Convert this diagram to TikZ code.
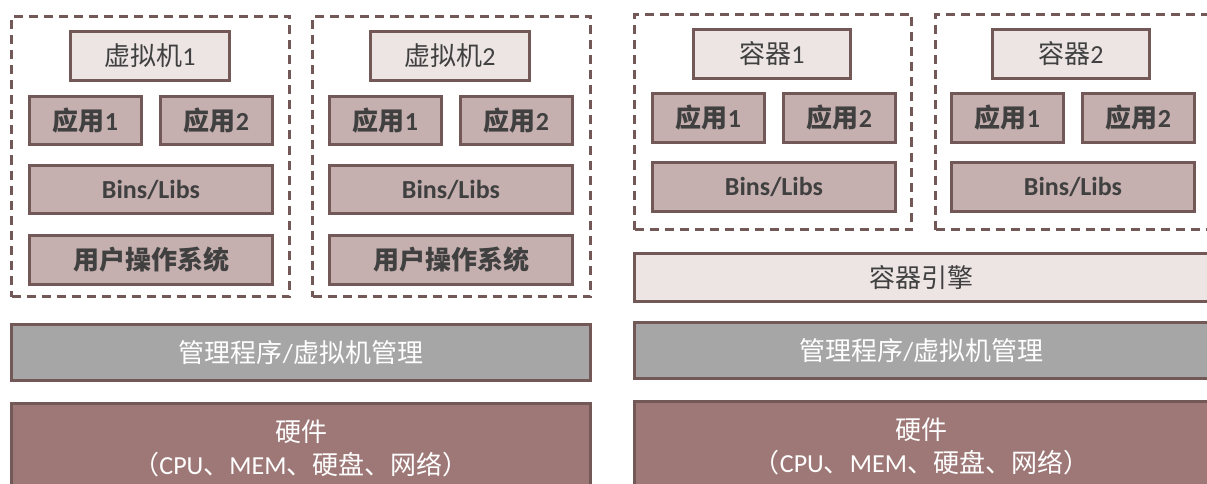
\documentclass[tikz,border=0pt]{standalone}
\usepackage{fontspec}
\setmainfont{Carlito}
\newfontfamily\cjk{Noto Sans CJK SC}
\newcommand{\zhtext}[1]{{\cjk #1}}

\definecolor{edgebrown}{HTML}{735858}
\definecolor{palepink}{HTML}{EDE4E4}
\definecolor{midpink}{HTML}{C5AFAF}
\definecolor{hypergray}{HTML}{A6A6A6}
\definecolor{hwbrown}{HTML}{9E7877}
\definecolor{txtgray}{HTML}{404040}

\tikzset{
	vmframe/.style={draw=edgebrown,line width=2.6pt,dash pattern=on 9pt off 6pt},
	label box/.style={fill=palepink,text=txtgray},
	app box/.style={fill=midpink,text=txtgray,font=\fontsize{26}{30}\selectfont\bfseries},
	base box/.style={text=white}
}

\begin{document}
\begin{tikzpicture}[x=1pt,y=-1pt]
	\useasboundingbox (0,0) rectangle (1207,484);
	\clip (0,0) rectangle (1207,484);

	% dashed frames
	\begin{scope}[every node/.style={vmframe,inner sep=0pt}]
		\node[minimum width=278,minimum height=280] (f1) at (150.5,156.5) {};
		\node[minimum width=278,minimum height=280] (f2) at (451.5,156.5) {};
		\node[minimum width=277,minimum height=215] (g1) at (773,122) {};
		\node[minimum width=277,minimum height=215] (g2) at (1074,122) {};
	\end{scope}

	\begin{scope}[every node/.style={draw=edgebrown,line width=2.6pt,inner sep=0pt,
	              font=\fontsize{26}{33}\selectfont,align=center}]
		% virtual machines
		\node[label box,minimum width=159,minimum height=49] (vm1) at (150,56) {\zhtext{虚拟机}1};
		\node[app box,minimum width=112,minimum height=48] (a11) at (85.5,120.5) {\zhtext{应用}1};
		\node[app box,minimum width=112,minimum height=48] (a12) at (216.5,120.5) {\zhtext{应用}2};
		\node[app box,minimum width=243,minimum height=48] (b1) at (151,189.5) {Bins/Libs};
		\node[app box,minimum width=243,minimum height=49] (os1) at (151,260) {\zhtext{用户操作系统}};

		\node[label box,minimum width=159,minimum height=49] (vm2) at (450,56) {\zhtext{虚拟机}2};
		\node[app box,minimum width=112,minimum height=48] (a21) at (385.5,120.5) {\zhtext{应用}1};
		\node[app box,minimum width=112,minimum height=48] (a22) at (516.5,120.5) {\zhtext{应用}2};
		\node[app box,minimum width=243,minimum height=48] (b2) at (451,189.5) {Bins/Libs};
		\node[app box,minimum width=243,minimum height=49] (os2) at (451,260) {\zhtext{用户操作系统}};

		\node[base box,fill=hypergray,minimum width=579,minimum height=56] (hv1) at (301,352.5) {\zhtext{管理程序}/\zhtext{虚拟机管理}};
		\node[base box,fill=hwbrown,minimum width=579,minimum height=89] (hw1) at (301,448)
			{\zhtext{硬件}\\\zhtext{（}CPU\zhtext{、}MEM\zhtext{、硬盘、网络）}};

		% containers
		\node[label box,minimum width=157,minimum height=49] (c1) at (772,54) {\zhtext{容器}1};
		\node[app box,minimum width=112,minimum height=49] (ca11) at (708.5,118) {\zhtext{应用}1};
		\node[app box,minimum width=112,minimum height=49] (ca12) at (839.5,118) {\zhtext{应用}2};
		\node[app box,minimum width=243,minimum height=49] (cb1) at (774,187) {Bins/Libs};

		\node[label box,minimum width=157,minimum height=49] (c2) at (1071,54) {\zhtext{容器}2};
		\node[app box,minimum width=112,minimum height=49] (ca21) at (1007.5,118) {\zhtext{应用}1};
		\node[app box,minimum width=112,minimum height=49] (ca22) at (1138.5,118) {\zhtext{应用}2};
		\node[app box,minimum width=243,minimum height=49] (cb2) at (1073,187) {Bins/Libs};

		\node[label box,minimum width=574,minimum height=48] (eng) at (921.5,277.5) {\zhtext{容器引擎}};
		\node[base box,fill=hypergray,minimum width=574,minimum height=56] (hv2) at (921.5,350.5) {\zhtext{管理程序}/\zhtext{虚拟机管理}};
		\node[base box,fill=hwbrown,minimum width=574,minimum height=89] (hw2) at (921.5,446)
			{\zhtext{硬件}\\\zhtext{（}CPU\zhtext{、}MEM\zhtext{、硬盘、网络）}};
	\end{scope}
\end{tikzpicture}
\end{document}
